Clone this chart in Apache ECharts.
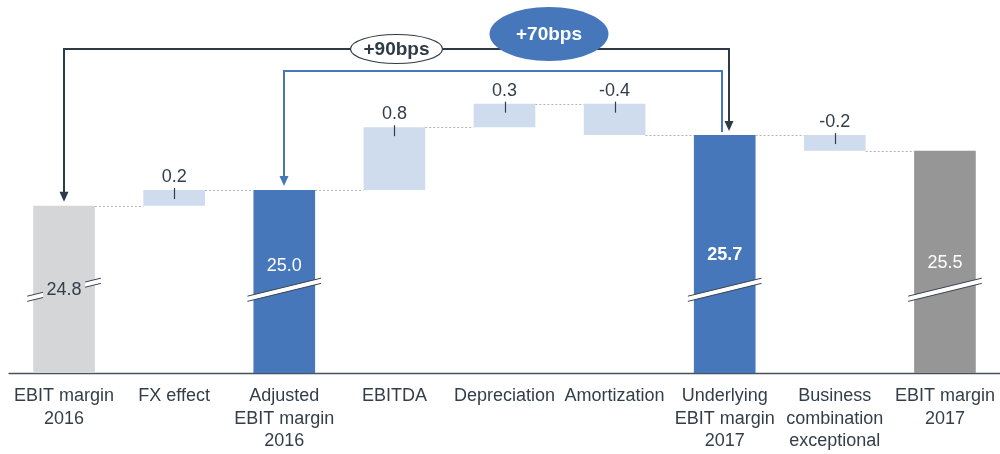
<!DOCTYPE html>
<html><head><meta charset="utf-8">
<script src="https://cdn.jsdelivr.net/npm/echarts@6/dist/echarts.min.js"></script>
<style>html,body{margin:0;padding:0;background:#fff}#c{width:1000px;height:454px}</style>
</head><body><div id="c"></div>
<script>
// ---- data ----
const categories = ['EBIT margin\n2016', 'FX effect', 'Adjusted\nEBIT margin\n2016', 'EBITDA', 'Depreciation', 'Amortization', 'Underlying\nEBIT margin\n2017', 'Business\ncombination\nexceptional', 'EBIT margin\n2017'];
const totals  = [24.8, null, 25.0, null, null, null, 25.7, null, 25.5];
const changes = [null, 0.2, null, 0.8, 0.3, -0.4, null, -0.2, null];
const bridges = [{ from: 0, to: 6 }, { from: 2, to: 6 }];

// ---- derived waterfall levels ----
const startLv = [], endLv = [];
let run = 0;
categories.forEach((c, i) => {
  if (totals[i] != null) { run = totals[i]; startLv.push(run); endLv.push(run); }
  else { startLv.push(run); run = +(run + changes[i]).toFixed(4); endLv.push(run); }
});

// ---- styles ----
const TXT = '#333e48';
const FONT = 'Liberation Sans, Arial, sans-serif';
const totalColor = { 0: '#d5d6d8', 2: '#4677bb', 6: '#4677bb', 8: '#969696' };
const totalText = { 0: { c: TXT, w: 'normal', dy: 0 }, 2: { c: '#fff', w: 'normal', dy: -24 }, 6: { c: '#fff', w: 'bold', dy: -35 }, 8: { c: '#fff', w: 'normal', dy: -27 } };
const BREAK_VALUE = 23.73;
const bridgeStyle = [
  { color: '#2e3b46', levelY: 49, endDx: 4, arrowEnd: true, fill: '#fff', stroke: '#2e3b46', tc: '#2e3b46', frac: 0.5, dy: 0, rx: 46, ry: 14.5 },
  { color: '#4677bb', levelY: 71, endDx: -3, arrowEnd: false, fill: '#4677bb', stroke: null, tc: '#fff', frac: 0.605, dy: -37, rx: 59.5, ry: 27 }
];
const BAR_FRAC = 0.56;

const chart = echarts.init(document.getElementById('c'), null, { renderer: 'canvas' });

const totalData = totals.map((v, i) => v == null ? '-' : { value: v, itemStyle: { color: totalColor[i] } });
const baseData = changes.map((d, i) => d == null ? '-' : Math.min(startLv[i], endLv[i]));
const deltaData = changes.map((d, i) => d == null ? '-' : Math.abs(d));

function halfW(api) { return api.size([1, 0])[0] * BAR_FRAC / 2; }

const option = {
  animation: false,
  grid: { left: 9, right: 0, top: 0, bottom: 81, containLabel: false },
  xAxis: {
    type: 'category', data: categories,
    axisLine: { lineStyle: { color: '#46525e', width: 1.3 } },
    axisTick: { show: false },
    axisLabel: { interval: 0, color: TXT, fontSize: 18, fontFamily: FONT, lineHeight: 22.5, margin: 12 }
  },
  yAxis: { type: 'value', min: 22.67, max: 27.42, show: false },
  series: [
    { type: 'bar', stack: 'w', z: 2, barWidth: (BAR_FRAC * 100) + '%', data: totalData },
    { type: 'bar', stack: 'w', z: 2, itemStyle: { color: 'transparent' }, data: baseData },
    { type: 'bar', stack: 'w', z: 2, itemStyle: { color: '#cfdcee' }, data: deltaData },
    { // connectors
      type: 'custom', silent: true, z: 3,
      data: categories.slice(0, -1).map((c, i) => [i, endLv[i]]),
      renderItem: (p, api) => {
        const i = api.value(0), hw = halfW(api);
        const a = api.coord([i, api.value(1)]), b = api.coord([i + 1, api.value(1)]);
        const y = Math.round(a[1]) + 0.5;
        return { type: 'line', shape: { x1: a[0] + hw, y1: y, x2: b[0] - hw, y2: y },
          style: { stroke: '#b3b3b3', lineWidth: 1, lineDash: [2, 2] } };
      }
    },
    { // delta labels with tick
      type: 'custom', silent: true, z: 10,
      data: changes.map((d, i) => d == null ? null : [i, Math.max(startLv[i], endLv[i]), d]).filter(x => x),
      renderItem: (p, api) => {
        const pt = api.coord([api.value(0), api.value(1)]);
        const x = Math.round(pt[0]) + 0.5;
        return { type: 'group', children: [
          { type: 'line', shape: { x1: x, y1: pt[1] - 2, x2: x, y2: pt[1] + 9 }, style: { stroke: TXT, lineWidth: 1.2 } },
          { type: 'text', style: { text: api.value(2).toFixed(1), x: pt[0], y: pt[1] - 13, align: 'center', verticalAlign: 'middle', fill: TXT, font: '18px ' + FONT } }
        ] };
      }
    },
    { // axis breaks + total labels
      type: 'custom', silent: true, z: 10,
      data: totals.map((v, i) => v == null ? null : [i, v]).filter(x => x),
      renderItem: (p, api) => {
        const i = api.value(0), hw = halfW(api);
        const c = api.coord([i, BREAK_VALUE]);
        const cx = c[0], yb = c[1];
        const ext = hw + 6, rise = 9, th = 2.6;
        const children = [
          { type: 'polygon', shape: { points: [[cx - ext, yb + rise - th], [cx + ext, yb - rise - th], [cx + ext, yb - rise + th], [cx - ext, yb + rise + th]] }, style: { fill: '#fff' } },
          { type: 'line', shape: { x1: cx - ext, y1: yb + rise - th, x2: cx + ext, y2: yb - rise - th }, style: { stroke: '#3a4550', lineWidth: 1 } },
          { type: 'line', shape: { x1: cx - ext, y1: yb + rise + th, x2: cx + ext, y2: yb - rise + th }, style: { stroke: '#3a4550', lineWidth: 1 } }
        ];
        const t = totalText[i];
        if (t.dy === 0) {
          children.push({ type: 'rect', shape: { x: cx - 21, y: yb - 14, width: 42, height: 28 }, style: { fill: totalColor[i] } });
        }
        children.push({ type: 'text', style: { text: api.value(1).toFixed(1), x: cx, y: yb + t.dy, align: 'center', verticalAlign: 'middle', fill: t.c, font: t.w + ' 18px ' + FONT } });
        return { type: 'group', children };
      }
    },
    { // bridges (+bps)
      type: 'custom', silent: true, z: 11,
      data: bridges.map((b, k) => [b.from, totals[b.from], k]),
      renderItem: (p, api) => {
        const k = api.value(2), b = bridges[k], s = bridgeStyle[k];
        const p1 = api.coord([b.from, totals[b.from]]);
        const p2 = api.coord([b.to, totals[b.to]]);
        const x1 = Math.round(p1[0]), x2 = Math.round(p2[0]) + s.endDx, ly = s.levelY;
        const tip1 = p1[1] - 4, tip2 = p2[1] - 4;
        const ch = [];
        ch.push({ type: 'polyline', shape: { points: [[x1, tip1 - 8], [x1, ly], [x2, ly], [x2, s.arrowEnd ? tip2 - 8 : p2[1] - 3]] },
          style: { stroke: s.color, lineWidth: 2, fill: null } });
        ch.push({ type: 'polygon', shape: { points: [[x1, tip1], [x1 - 4.5, tip1 - 10], [x1 + 4.5, tip1 - 10]] }, style: { fill: s.color } });
        if (s.arrowEnd) ch.push({ type: 'polygon', shape: { points: [[x2, tip2], [x2 - 4.5, tip2 - 10], [x2 + 4.5, tip2 - 10]] }, style: { fill: s.color } });
        const bps = Math.round((totals[b.to] - totals[b.from]) * 100);
        const ex = x1 + (x2 - x1) * s.frac, ey = ly + s.dy;
        ch.push({ type: 'ellipse', shape: { cx: ex, cy: ey, rx: s.rx, ry: s.ry }, style: { fill: s.fill, stroke: s.stroke, lineWidth: 1.2 } });
        ch.push({ type: 'text', style: { text: (bps >= 0 ? '+' : '') + bps + 'bps', x: ex, y: ey + 1, align: 'center', verticalAlign: 'middle', fill: s.tc, font: 'bold 19px ' + FONT } });
        return { type: 'group', children: ch };
      }
    }
  ]
};
chart.setOption(option);
</script></body></html>
